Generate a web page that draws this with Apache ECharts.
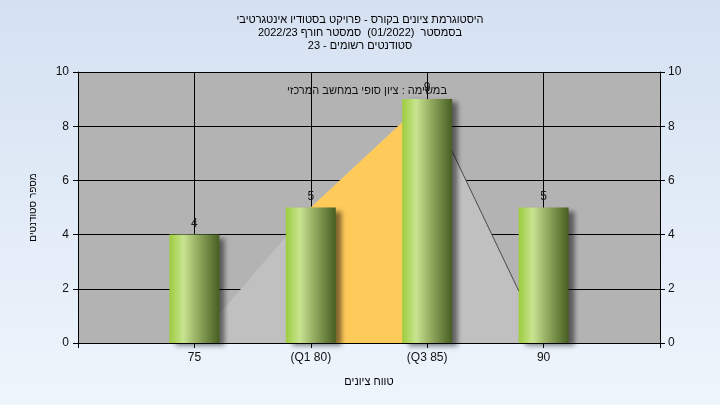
<!DOCTYPE html>
<html>
<head>
<meta charset="utf-8">
<script src="https://cdn.jsdelivr.net/npm/echarts@6/dist/echarts.min.js"></script>
<style>
html,body{margin:0;padding:0;}
#chart{width:720px;height:405px;background:linear-gradient(to bottom,#d5e1f2 0%,#eef5fc 100%);}
</style>
</head>
<body>
<div id="chart"></div>
<script>
const titleLines = [
  'היסטוגרמת ציונים בקורס - פרויקט בסטודיו אינטגרטיבי',
  'בסמסטר  (01/2022)  סמסטר חורף 2022/23',
  'סטודנטים רשומים - 23'
];
const innerTitle = 'במשימה : ציון סופי במחשב המרכזי';
const xAxisName = 'טווח ציונים';
const yAxisName = 'מספר סטודנטים';
const grades = [75, 80, 85, 90];
const tickLabels = ['75', '(Q1 80)', '(Q3 85)', '90'];
const counts = [4, 5, 9, 5];
const polygonGrades = [75, 80, 85, 90];
const polygonValues = [0, 5, 9, 0];
const q1 = 80;
const q3 = 85;

const FONT = "'Liberation Sans', Arial, 'DejaVu Sans', sans-serif";
const chart = echarts.init(document.getElementById('chart'));

const polyData = polygonGrades.map((g, i) => [g, polygonValues[i]]);
const iqrData = polyData.filter(p => p[0] >= q1 && p[0] <= q3);
const rightEdge = polyData.filter(p => p[0] >= q3);

chart.setOption({
  backgroundColor: 'transparent',
  animation: false,
  textStyle: { fontFamily: FONT },
  title: [
    {
      text: titleLines.join('\n'),
      left: 'center', top: 8,
      textStyle: { fontSize: 11, fontWeight: 'normal', color: '#000', lineHeight: 13, fontFamily: FONT }
    },
    {
      text: innerTitle,
      left: 362, top: 80, textAlign: 'center',
      textStyle: { fontSize: 11, fontWeight: 'normal', color: '#111', fontFamily: FONT }
    }
  ],
  grid: {
    left: 78, right: 60, top: 72, bottom: 62,
    show: true, backgroundColor: '#b3b3b3', borderWidth: 0
  },
  xAxis: {
    type: 'value', min: 70, max: 95, interval: 5,
    name: xAxisName, nameLocation: 'middle', nameGap: 33,
    nameTextStyle: { fontSize: 11, color: '#000', fontFamily: FONT },
    axisLine: { show: true, lineStyle: { color: '#000', width: 1 } },
    axisTick: { show: true, length: 5, lineStyle: { color: '#000' } },
    axisLabel: {
      margin: 9, fontSize: 12, color: '#111', fontFamily: FONT,
      formatter: v => { const i = grades.indexOf(v); return i >= 0 ? tickLabels[i] : ''; }
    },
    splitLine: { show: true, lineStyle: { color: '#000', width: 1 } }
  },
  yAxis: [
    {
      type: 'value', min: 0, max: 10, interval: 2, position: 'left',
      name: yAxisName, nameLocation: 'middle', nameGap: 40, nameRotate: 90,
      nameTextStyle: { fontSize: 10, color: '#000', fontFamily: FONT },
      axisLine: { show: true, lineStyle: { color: '#000', width: 1 } },
      axisTick: { show: true, length: 5, lineStyle: { color: '#000' } },
      axisLabel: { margin: 9, fontSize: 12, color: '#111', fontFamily: FONT },
      splitLine: { show: true, lineStyle: { color: '#000', width: 1 } }
    },
    {
      type: 'value', min: 0, max: 10, interval: 2, position: 'right',
      axisLine: { show: true, lineStyle: { color: '#000', width: 1 } },
      axisTick: { show: true, length: 5, lineStyle: { color: '#000' } },
      axisLabel: { margin: 8, fontSize: 12, color: '#111', fontFamily: FONT },
      splitLine: { show: false }
    }
  ],
  series: [
    {
      type: 'line', data: polyData, symbol: 'none', z: 1,
      lineStyle: { width: 0, opacity: 0 },
      areaStyle: { color: '#c0c0c0', opacity: 1 }
    },
    {
      type: 'line', data: iqrData, symbol: 'none', z: 2,
      lineStyle: { width: 0, opacity: 0 },
      areaStyle: { color: '#fecb5a', opacity: 1 }
    },
    {
      type: 'line', data: rightEdge, symbol: 'none', z: 3,
      lineStyle: { width: 1, color: '#4a4a4a' }
    },
    {
      type: 'bar', z: 5,
      data: grades.map((g, i) => [g, counts[i]]),
      barWidth: 50,
      itemStyle: {
        color: new echarts.graphic.LinearGradient(0, 0, 1, 0, [
          { offset: 0, color: '#9dcc3e' },
          { offset: 0.28, color: '#c8e490' },
          { offset: 0.55, color: '#97ae63' },
          { offset: 1, color: '#475e22' }
        ]),
        shadowColor: 'rgba(0,0,0,0.5)', shadowBlur: 5, shadowOffsetX: 6, shadowOffsetY: 3
      },
      label: {
        show: true, position: 'top', distance: 5,
        fontSize: 12, color: '#1a1a1a', fontFamily: FONT
      }
    }
  ]
});
</script>
</body>
</html>
